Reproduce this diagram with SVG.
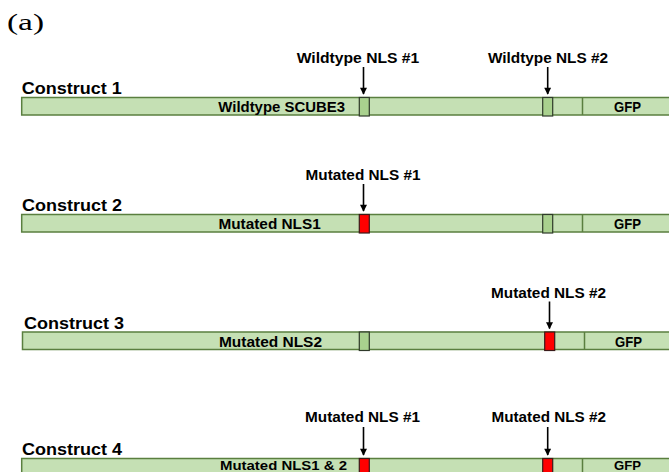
<svg xmlns="http://www.w3.org/2000/svg" width="669" height="472" viewBox="0 0 669 472">
  <style>
    .bar { fill: #c5e0b4; stroke: #5a7f3f; stroke-width: 1.5; }
    .div { stroke: #5a7f3f; stroke-width: 1.5; }
    .wt { fill: #a9d18e; stroke: #2f3a2a; stroke-width: 1.2; }
    .mut { fill: #ff0000; stroke: #3a1a1a; stroke-width: 1.2; }
    .lbl { font-family: "Liberation Sans", Arial, sans-serif; font-weight: bold; fill: #000; }
    .con { font-size: 16.5px; }
    .seg { font-size: 15px; }
    .low { font-size: 13.5px; }
    .nls { font-size: 14px; }
    .arrow { stroke: #000; stroke-width: 1.6; fill: none; marker-end: url(#head); }
  </style>
  <defs>
    <marker id="head" viewBox="0 0 10 10" refX="9" refY="5" markerWidth="8" markerHeight="7" orient="auto" markerUnits="userSpaceOnUse">
      <path d="M0,0 L10,5 L0,10 Z" fill="#000"/>
    </marker>
  </defs>

  <text x="7" y="30" font-family="Liberation Serif, 'Times New Roman', serif" font-size="24" textLength="37" lengthAdjust="spacingAndGlyphs">(a)</text>

  <!-- Construct 1 -->
  <g id="construct1">
    <text class="lbl con" x="21.7" y="94" textLength="100" lengthAdjust="spacingAndGlyphs">Construct 1</text>
    <rect class="bar" x="21.7" y="97.5" width="660" height="17.5"/>
    <line class="div" x1="582.5" y1="97.5" x2="582.5" y2="115"/>
    <rect class="wt" x="359.3" y="97.5" width="10" height="18.5"/>
    <rect class="wt" x="542.7" y="97.5" width="10" height="18.5"/>
    <text class="lbl seg" x="218.3" y="112.3" textLength="126.7" lengthAdjust="spacingAndGlyphs">Wildtype SCUBE3</text>
    <text class="lbl seg" x="614" y="112" textLength="27" lengthAdjust="spacingAndGlyphs">GFP</text>
    <text class="lbl nls" x="296.7" y="63" textLength="122.6" lengthAdjust="spacingAndGlyphs">Wildtype NLS #1</text>
    <text class="lbl nls" x="488" y="63" textLength="120" lengthAdjust="spacingAndGlyphs">Wildtype NLS #2</text>
  </g>

  <!-- Construct 2 -->
  <g id="construct2">
    <text class="lbl con" x="22" y="211" textLength="100" lengthAdjust="spacingAndGlyphs">Construct 2</text>
    <rect class="bar" x="21.7" y="214.5" width="660" height="17.5"/>
    <line class="div" x1="582.5" y1="214.5" x2="582.5" y2="232"/>
    <rect class="mut" x="359.3" y="214.5" width="10" height="18.5"/>
    <rect class="wt" x="542.7" y="214.5" width="10" height="18.5"/>
    <text class="lbl seg" x="218.4" y="229.3" textLength="102.4" lengthAdjust="spacingAndGlyphs">Mutated NLS1</text>
    <text class="lbl seg" x="614" y="229" textLength="27" lengthAdjust="spacingAndGlyphs">GFP</text>
    <text class="lbl nls" x="305.5" y="180" textLength="115" lengthAdjust="spacingAndGlyphs">Mutated NLS #1</text>
  </g>

  <!-- Construct 3 -->
  <g id="construct3">
    <text class="lbl con" x="24" y="328.5" textLength="100" lengthAdjust="spacingAndGlyphs">Construct 3</text>
    <rect class="bar" x="22.5" y="332" width="660" height="17.5"/>
    <line class="div" x1="584.5" y1="332" x2="584.5" y2="349.5"/>
    <rect class="wt" x="359.3" y="332" width="10" height="18.5"/>
    <rect class="mut" x="544.7" y="332" width="10" height="18.5"/>
    <text class="lbl seg" x="219" y="346.8" textLength="103" lengthAdjust="spacingAndGlyphs">Mutated NLS2</text>
    <text class="lbl seg" x="615" y="346.5" textLength="27" lengthAdjust="spacingAndGlyphs">GFP</text>
    <text class="lbl nls" x="491" y="297.5" textLength="115" lengthAdjust="spacingAndGlyphs">Mutated NLS #2</text>
  </g>

  <!-- Construct 4 -->
  <g id="construct4">
    <text class="lbl con" x="22" y="454.5" textLength="100" lengthAdjust="spacingAndGlyphs">Construct 4</text>
    <rect class="bar" x="21.7" y="458.5" width="660" height="17.5"/>
    <line class="div" x1="582.5" y1="458.5" x2="582.5" y2="476"/>
    <rect class="mut" x="359.3" y="458.5" width="10" height="18.5"/>
    <rect class="mut" x="542.7" y="458.5" width="10" height="18.5"/>
    <text class="lbl low" x="220" y="470" textLength="127" lengthAdjust="spacingAndGlyphs">Mutated NLS1 &amp; 2</text>
    <text class="lbl low" x="614" y="470" textLength="27" lengthAdjust="spacingAndGlyphs">GFP</text>
    <text class="lbl nls" x="305" y="422" textLength="115" lengthAdjust="spacingAndGlyphs">Mutated NLS #1</text>
    <text class="lbl nls" x="491.5" y="422" textLength="114.5" lengthAdjust="spacingAndGlyphs">Mutated NLS #2</text>
  </g>

  <!-- Arrows pointing at the NLS sites -->
  <g id="connectors">
    <line class="arrow" x1="363.5" y1="67" x2="363.5" y2="94"/>
    <line class="arrow" x1="547.7" y1="67" x2="547.7" y2="94"/>
    <line class="arrow" x1="363.5" y1="184" x2="363.5" y2="211"/>
    <line class="arrow" x1="549.5" y1="301.5" x2="549.5" y2="328.5"/>
    <line class="arrow" x1="363.5" y1="427" x2="363.5" y2="455"/>
    <line class="arrow" x1="547.7" y1="427" x2="547.7" y2="455"/>
  </g>
</svg>
